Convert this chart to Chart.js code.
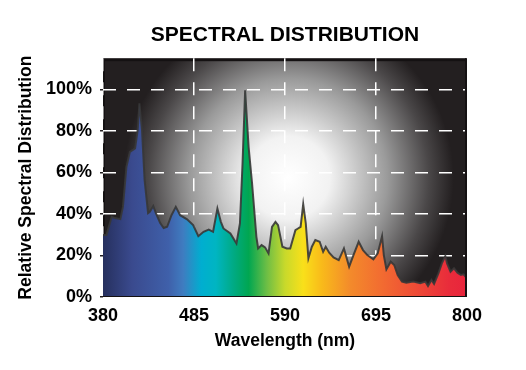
<!DOCTYPE html>
<html>
<head>
<meta charset="utf-8">
<script src="https://cdn.jsdelivr.net/npm/chart.js@4/dist/chart.umd.min.js"></script>
<style>
  html, body { margin: 0; padding: 0; background: #fff; }
  #wrap { width: 526px; height: 370px; }
</style>
</head>
<body>
<div id="wrap"><canvas id="spd" width="526" height="370"></canvas></div>
<script>
// Spectrum (nm, % of peak)
const wavelengths = [380,384,390,394,400,403,407,411,417,420,422,425,428,432,434,438,441,446,450,454,
  459,464,469,477,484,490,496,502,507,512,516,519,527,534,538,541,544,548,552,557,
  559,563,567,571,575,579,582,587,592,596,602,605,608,611,614,617,621,625,630,634,
  637,641,646,652,658,664,669,675,680,685,692,697,702,704,707,712,716,720,725,730,
  738,746,752,755,759,762,767,771,775,777,781,785,789,793,796,800];
const intensity = [29.8,29.8,38.6,38.0,37.5,43.4,62.6,69.9,71.6,80.3,93.3,80.3,56.3,40.4,41.0,43.8,40.4,35.6,33.2,33.8,
  39.4,43.4,39.4,37.4,34.6,29.3,31.4,32.5,31.4,42.6,36.2,33.0,30.6,25.8,35.4,64.3,99.5,72.3,54.7,29.0,
  23.4,25.0,23.9,21.0,33.8,36.2,34.6,24.2,23.4,23.4,32.2,33.0,33.8,44.7,35.4,18.6,24.2,27.4,26.6,21.8,
  24.2,21.3,19.1,17.8,23.4,14.6,20.2,26.6,22.6,20.2,18.1,21.0,29.3,20.2,13.3,17.0,15.4,10.6,7.4,6.9,
  7.4,6.6,7.4,5.3,8.2,6.3,11.4,16.2,19.7,16.2,12.2,13.8,11.7,10.6,10.9,9.0];
const xTicks = [380, 485, 590, 695, 800];
const yTicks = [0, 20, 40, 60, 80, 100];

// rainbow under the curve, left to right across the plot
const spectrumStops = [
  [0.00, '#26305e'], [0.08, '#3a4a8e'], [0.18, '#3f60aa'], [0.22, '#3f7cc0'],
  [0.27, '#00aed0'], [0.31, '#00b5c2'], [0.36, '#00aa82'], [0.40, '#00a651'],
  [0.45, '#6dbe45'], [0.50, '#c8d92b'], [0.55, '#f9e01a'], [0.60, '#f9bb1a'],
  [0.68, '#f38a2b'], [0.77, '#f26a31'], [0.86, '#ee4b36'], [0.95, '#e92c3b'], [1.00, '#e8243c']
];

const FONT = '"Liberation Sans", Arial, sans-serif';

function spectrumFill(ctx) {
  const area = ctx.chart.chartArea;
  if (!area) return '#3f7cc0';
  const g = ctx.chart.ctx.createLinearGradient(area.left, 0, area.right, 0);
  spectrumStops.forEach(s => g.addColorStop(s[0], s[1]));
  return g;
}

// dark frame with a soft white glow in the middle
const backdrop = {
  id: 'backdrop',
  beforeDraw(chart) {
    const {ctx, chartArea: a} = chart;
    ctx.save();
    ctx.fillStyle = '#141112';
    ctx.fillRect(a.left, a.top, a.right - a.left, a.bottom - a.top);
    const cx = a.left + (a.right - a.left) * 0.51;
    const cy = a.top + (a.bottom - a.top) * 0.50;
    const rg = ctx.createRadialGradient(cx, cy, 0, cx, cy, 165);
    rg.addColorStop(0, '#ffffff');
    rg.addColorStop(0.25, '#f2f2f2');
    rg.addColorStop(0.6, '#9a9a9a');
    rg.addColorStop(0.85, '#4a4748');
    rg.addColorStop(1, '#231f20');
    ctx.fillStyle = rg;
    ctx.fillRect(a.left + 2, a.top + 3, a.right - a.left - 4, a.bottom - a.top - 3);
    ctx.restore();
  },
  afterDatasetsDraw(chart) {
    const {ctx, chartArea: a} = chart;
    ctx.save();
    ctx.fillStyle = '#141112';
    ctx.fillRect(a.right - 2, a.top, 2, a.bottom - a.top);
    ctx.fillRect(a.left, a.bottom - 1, a.right - a.left, 1);
    ctx.restore();
  }
};

new Chart(document.getElementById('spd'), {
  type: 'line',
  data: {
    datasets: [{
      data: wavelengths.map((w, i) => ({x: w, y: intensity[i]})),
      borderColor: 'rgba(55,55,55,0.9)',
      borderWidth: 2,
      pointRadius: 0,
      tension: 0,
      fill: 'start',
      backgroundColor: spectrumFill
    }]
  },
  options: {
    responsive: false,
    animation: false,
    layout: { padding: { left: 0, right: 59, top: 0, bottom: 0 } },
    plugins: {
      legend: { display: false },
      tooltip: { enabled: false },
      title: {
        display: true,
        text: 'SPECTRAL DISTRIBUTION',
        fullSize: false,
        color: '#000',
        font: { family: FONT, size: 21, weight: 'bold' },
        padding: { top: 23, bottom: 10 }
      }
    },
    scales: {
      x: {
        type: 'linear',
        min: 380, max: 800,
        afterBuildTicks: s => { s.ticks = xTicks.map(v => ({value: v})); },
        afterFit: s => { s.height = 73; },
        grid: { color: '#fff', lineWidth: 1.5, drawTicks: false },
        border: { display: false, dash: [13, 11] },
        ticks: {
          color: '#000', padding: 8, maxRotation: 0,
          font: { family: FONT, size: 18, weight: 'bold' }
        },
        title: {
          display: true, text: 'Wavelength (nm)', color: '#000',
          font: { family: FONT, size: 17.5, weight: 'bold' },
          padding: { top: 0, bottom: 18 }
        }
      },
      y: {
        min: 0, max: 115,
        afterBuildTicks: s => { s.ticks = yTicks.map(v => ({value: v})); },
        afterFit: s => { s.width = 103; },
        grid: { color: '#fff', lineWidth: 1.5, tickColor: '#231f20', tickLength: 3, tickWidth: 1.5 },
        border: { display: false, dash: [13, 11] },
        ticks: {
          color: '#000', padding: 8,
          font: { family: FONT, size: 18, weight: 'bold' },
          callback: v => v + '%'
        },
        title: {
          display: true, text: 'Relative Spectral Distribution', color: '#000',
          font: { family: FONT, size: 17.5, weight: 'bold' },
          padding: { top: 16, bottom: 0 }
        }
      }
    }
  },
  plugins: [backdrop]
});
</script>
</body>
</html>
